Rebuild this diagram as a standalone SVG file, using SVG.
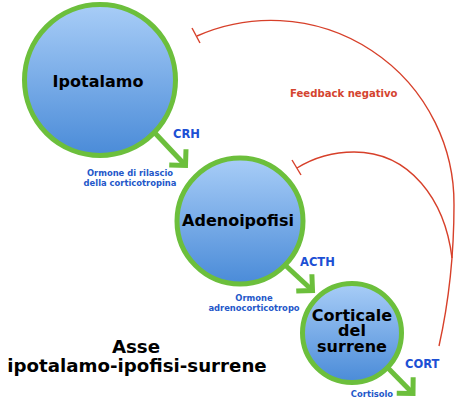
<svg xmlns="http://www.w3.org/2000/svg" width="474" height="403" viewBox="0 0 474 403">
<style>
.node circle{fill:url(#gb);stroke:#6cbf3c;stroke-width:5}
.nt{font-family:"DejaVu Sans",sans-serif;font-weight:bold;font-size:16px;fill:#000;text-anchor:middle}
.hl{font-family:"DejaVu Sans",sans-serif;font-weight:bold;font-size:11.5px;fill:#1c4fd4}
.sm{font-family:"DejaVu Sans",sans-serif;font-weight:bold;font-size:8.4px;fill:#2457c9;text-anchor:middle}
.fb{font-family:"DejaVu Sans",sans-serif;font-weight:bold;font-size:10.1px;fill:#d4442f}
.title{font-family:"DejaVu Sans",sans-serif;font-weight:bold;font-size:18.2px;fill:#000;text-anchor:middle}
.arr{fill:none;stroke:#6cbf3c;stroke-width:5;marker-end:url(#ah)}
.red{fill:none;stroke:#d7402a;stroke-width:1.4}
</style>
<defs>
<linearGradient id="gb" x1="0" y1="0" x2="0" y2="1">
<stop offset="0" stop-color="#a8cdf7"/>
<stop offset="1" stop-color="#4a8bd8"/>
</linearGradient>
<marker id="ah" markerUnits="userSpaceOnUse" markerWidth="40" markerHeight="40" refX="0" refY="0" viewBox="-20 -20 40 40" orient="auto">
<path d="M -11.5,-11.5 L 0,0 L -11.5,11.5" fill="none" stroke="#6cbf3c" stroke-width="5" stroke-linejoin="miter"/>
</marker>
</defs>
<rect width="474" height="403" fill="#fff"/>
<g id="connectors">
<path class="arr" d="M 154,132 L 185.5,165.5"/>
<path class="arr" d="M 285,265 L 312.5,290.5"/>
<path class="arr" d="M 388,368 L 413,393.5"/>
<path class="red" d="M 439,346 C 447,310 454,260 454,205 A 183 183 0 0 0 197,36"/>
<path class="red" d="M 192,28 L 200,43"/>
<path class="red" d="M 452,258 C 445,200 410,152 354,152 C 330,152 310,160 297,168"/>
<path class="red" d="M 292,160 L 301,175"/>
</g>
<g id="ipotalamo" class="node">
<circle cx="100" cy="80" r="75.5"/>
<text class="nt" x="98" y="87">Ipotalamo</text>
</g>
<g id="adenoipofisi" class="node">
<circle cx="240" cy="221" r="63"/>
<text class="nt" x="238" y="226">Adenoipofisi</text>
</g>
<g id="corticale" class="node">
<circle cx="352" cy="333" r="49.5"/>
<text class="nt" x="352" y="321">Corticale<tspan x="352" dy="15">del</tspan><tspan x="352" dy="15.5">surrene</tspan></text>
</g>
<g id="labels">
<text class="hl" x="173" y="138">CRH</text>
<text class="sm" x="130" y="176">Ormone di rilascio</text>
<text class="sm" x="130" y="186">della corticotropina</text>
<text class="hl" x="300" y="266">ACTH</text>
<text class="sm" x="254" y="301">Ormone</text>
<text class="sm" x="254" y="311">adrenocorticotropo</text>
<text class="hl" x="405" y="368">CORT</text>
<text class="sm" x="372" y="397">Cortisolo</text>
<text class="fb" x="290" y="97">Feedback negativo</text>
<text class="title" x="136" y="353">Asse</text>
<text class="title" x="137" y="372">ipotalamo-ipofisi-surrene</text>
</g>
</svg>
